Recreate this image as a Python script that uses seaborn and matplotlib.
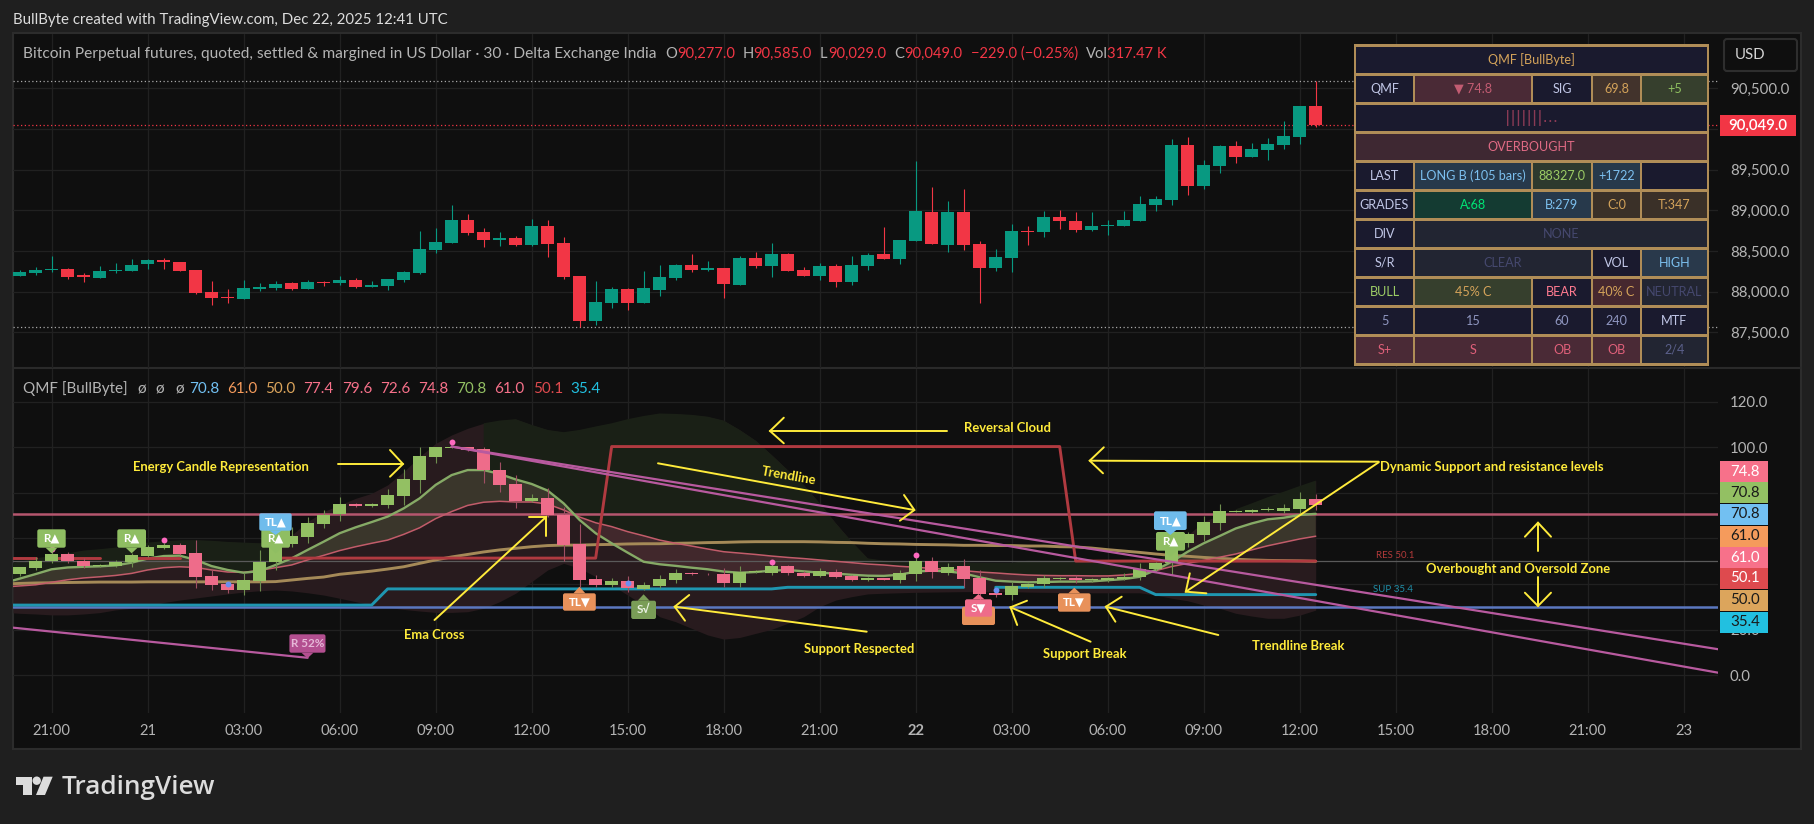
import numpy as np
import pandas as pd
import matplotlib
matplotlib.use("Agg")
import matplotlib.pyplot as plt
from matplotlib.patches import Rectangle, Polygon, FancyBboxPatch, Circle
import seaborn as sns

# --- price candles, 30 minute bars ---
opens = [88193,88230,88271,88279,88205,88168,88254,88254,88340,88390,88365,88267,87996,87935,87910,88033,88045,88107,88033,88119,
         88107,88144,88058,88070,88144,88230,88512,88599,88881,88734,88635,88660,88574,88808,88599,88193,87640,87861,88033,87861,
         88021,88168,88328,88267,88291,88082,88414,88316,88463,88267,88193,88316,88119,88316,88463,88402,88623,88980,88574,88980,
         88586,88291,88414,88746,88734,88918,88869,88758,88812,88808,88869,89066,89127,89803,89299,89545,89791,89656,89742,89803,
         89902,90277]
highs = [88267,88303,88439,88291,88226,88316,88353,88402,88402,88414,88365,88267,88131,88033,88144,88107,88131,88119,88144,88131,
         88193,88168,88131,88156,88254,88746,88783,89066,88955,88783,88734,88685,88894,88881,88672,88193,88131,88058,88045,88254,
         88328,88340,88463,88377,88291,88439,88488,88599,88476,88303,88353,88340,88439,88476,88795,88635,89607,89287,89115,89262,
         88623,88525,88832,88808,88992,89004,88980,88980,88881,88992,89176,89176,89877,89902,89619,89803,89853,89828,89889,90098,
         90283,90585]
lows = [88193,88205,88246,88156,88119,88168,88230,88254,88279,88279,88254,87972,87836,87861,87910,88008,88021,88021,88033,88070,
        88082,88045,88058,88021,88119,88217,88476,88599,88697,88549,88562,88562,88562,88426,88156,87566,87590,87799,87775,87861,
        87947,88144,88242,88254,87922,88082,88291,88181,88254,88193,88144,88058,88082,88267,88402,88340,88623,88586,88488,88512,
        87861,88254,88242,88574,88672,88771,88734,88746,88697,88808,88869,88992,89066,89189,89262,89459,89582,89656,89619,89754,
        89816,90029]
closes = [88242,88267,88279,88181,88181,88254,88267,88328,88390,88365,88254,87984,87922,87926,88045,88058,88094,88033,88119,88107,
          88144,88058,88082,88156,88242,88525,88611,88881,88722,88635,88660,88574,88808,88586,88181,87640,87873,88033,87861,88045,
          88181,88328,88267,88291,88094,88414,88316,88463,88254,88193,88316,88119,88328,88451,88402,88635,88992,88586,88980,88574,
          88291,88426,88746,88738,88918,88869,88758,88808,88820,88881,89078,89139,89803,89299,89557,89791,89656,89754,89816,89914,
          90283,90049]

# --- energy candles in the QMF pane ---
e_open = [44.6,47.2,50.3,53.1,50.3,48.1,47.8,49.5,52.5,56.0,57.0,53.6,43.4,40.0,37.6,41.5,49.8,57.7,60.8,66.5,
          70.6,75.0,74.4,74.8,78.8,85.8,95.9,99.8,100.0,99.1,90.0,83.8,76.4,77.6,70.3,57.6,42.2,39.8,41.2,37.7,
          39.2,41.8,44.9,44.6,44.4,40.5,45.2,44.9,47.8,45.0,43.7,45.5,43.4,41.8,42.7,41.8,44.6,50.0,45.0,47.8,
          42.7,36.1,35.4,38.9,39.9,42.1,42.5,41.7,41.7,42.1,43.3,46.6,49.1,58.2,61.5,67.0,71.8,71.5,72.5,72.2,
          73.1,77.4]
e_high = [47.3,52.0,55.0,54.2,51.3,48.7,50.6,53.5,57.1,58.2,57.9,59.3,46.2,41.1,44.7,54.9,62.3,65.2,69.6,72.5,
          78.1,75.7,75.7,81.6,90.6,100.0,100.0,100.0,100.0,100.0,93.5,87.7,79.5,82.0,74.0,66.4,44.0,42.5,43.5,40.8,
          44.0,46.5,45.2,44.7,46.9,48.0,46.0,50.6,48.4,45.8,46.9,46.5,44.0,43.0,42.8,46.2,52.0,52.0,49.1,50.9,
          46.2,36.7,41.1,40.6,44.1,43.3,44.0,42.5,43.3,44.7,49.4,49.8,62.3,63.0,69.9,75.1,72.5,73.1,73.7,75.1,
          80.4,79.6]
e_low = [43.5,46.2,49.1,49.1,46.9,47.6,47.6,47.6,52.0,55.4,52.6,38.1,37.4,36.2,35.4,37.1,46.2,56.4,57.9,64.5,
         67.8,73.9,73.9,73.2,74.7,79.8,93.0,99.6,98.4,84.5,80.5,73.2,76.1,69.6,50.3,38.9,38.6,38.9,36.7,37.4,
         38.1,40.6,44.1,44.0,38.9,38.9,44.8,44.0,44.0,43.3,43.3,42.5,41.5,41.5,41.7,40.6,41.4,42.8,44.0,38.9,
         33.0,34.5,33.0,38.1,38.9,41.8,40.3,41.1,41.1,41.8,41.8,45.5,44.0,56.4,59.1,63.7,71.5,71.2,72.1,71.0,
         70.6,72.6]
e_close = [47.3,50.3,53.1,50.3,47.9,48.4,49.7,52.6,56.1,57.0,53.3,43.3,39.8,37.6,41.6,49.8,58.0,60.9,66.6,70.3,
           75.0,74.4,75.0,78.9,85.9,96.0,100.0,100.0,98.7,90.0,83.6,76.4,77.6,70.2,57.1,41.8,39.8,41.2,38.3,39.6,
           42.1,44.9,44.4,44.3,40.5,45.2,45.6,47.8,45.0,43.7,45.8,43.3,41.8,42.7,41.8,44.7,50.0,45.5,47.6,42.2,
           35.7,35.4,39.0,40.0,42.7,42.5,41.7,42.1,42.5,43.3,46.8,49.2,59.3,61.8,67.1,71.9,72.1,72.7,73.1,73.4,
           77.2,74.8]

# --- QMF lines, first value sits on the left edge of the pane ---
line_bars = [0.59] + list(range(1, 83))
qmf_fast = [41.6,42.4,44.4,46.5,47.3,47.6,47.8,48.2,49.4,51.2,52.3,52.5,50.6,47.9,46.2,45.0,45.7,48.4,51.3,55.0,58.6,
            62.3,64.9,67.2,69.6,73.2,77.6,83.5,87.8,90.0,90.0,88.3,85.9,83.9,81.0,75.4,68.1,62.3,57.9,53.8,49.8,
            48.7,48.0,47.2,46.5,45.5,45.0,45.3,45.9,46.2,45.6,45.0,44.6,44.1,43.7,43.6,44.1,45.5,45.9,45.6,44.7,
            43.0,41.5,41.1,40.8,40.9,41.1,41.1,41.2,41.7,42.2,43.2,46.2,49.8,54.2,57.9,61.1,64.4,66.6,68.4,69.1,
            70.3,70.8]
qmf_signal = [39.0,39.2,39.7,40.8,41.9,42.7,43.2,43.8,44.7,46.2,47.2,47.6,47.3,46.2,45.3,45.2,46.0,47.2,48.4,50.6,52.6,
              54.7,56.4,57.9,59.3,61.8,64.7,68.7,71.8,74.5,75.9,76.3,76.0,76.0,75.1,72.5,69.4,66.9,65.2,63.0,61.2,
              59.3,57.9,56.7,55.4,54.2,53.6,53.0,52.3,51.7,51.2,50.6,50.0,49.4,48.8,48.4,47.8,47.4,46.9,46.5,45.9,
              45.3,44.9,44.4,44.0,43.8,43.7,43.7,43.6,43.6,44.0,44.7,45.9,47.7,49.1,50.4,51.8,53.2,55.0,56.8,58.3,
              59.8,61.0]
qmf_slow = [40.2,40.3,40.5,40.6,40.7,40.8,40.9,40.9,40.9,41.0,41.0,41.0,41.0,41.0,41.0,41.0,41.0,41.1,41.8,42.5,43.1,
            44.3,45.0,45.7,46.6,47.6,49.1,50.6,51.9,53.0,54.1,55.0,55.7,56.4,56.9,57.1,57.1,57.3,57.4,57.6,57.7,
            57.7,57.9,58.0,58.2,58.3,58.5,58.6,58.6,58.6,58.6,58.5,58.3,58.2,57.9,57.7,57.6,57.4,57.3,57.2,57.0,
            57.0,56.9,56.9,56.7,56.7,56.4,56.3,55.8,55.1,54.5,53.9,53.2,52.6,52.2,51.7,51.3,50.9,50.6,50.4,50.3,
            50.2,50.0]
cloud_top = [49.2,49.8,51.3,52.3,53.5,54.7,55.3,56.0,56.9,58.2,58.8,59.2,59.3,59.0,58.5,58.2,57.9,58.6,61.5,67.4,71.8,
             74.7,77.6,79.8,83.5,89.3,95.9,101.7,105.4,108.3,110.5,111.7,112.3,109.8,107.6,106.6,107.6,109.1,110.5,112.3,113.7,
             114.8,114.6,114.2,113.4,111.7,107.6,102.9,96.6,90.0,83.5,75.4,66.7,58.6,51.3,50.3,49.8,49.7,49.7,49.7,49.4,
             49.3,49.3,49.3,50.3,50.3,50.3,50.3,50.3,50.4,50.4,50.5,50.6,54.2,61.5,67.4,70.3,72.8,75.4,78.1,80.5,
             83.0,85.4]
cloud_bottom = [27.4,27.2,26.9,26.5,26.5,26.9,27.5,28.7,29.4,30.4,31.9,33.0,33.9,34.8,35.7,36.5,37.1,37.4,37.0,36.2,35.2,
                33.8,32.3,30.8,29.8,28.9,28.2,27.6,27.6,27.9,29.4,32.3,36.0,41.1,46.2,49.1,46.9,43.3,39.6,35.2,30.8,
                25.7,23.5,20.6,17.7,15.9,16.6,18.4,20.2,22.8,25.7,30.1,33.0,34.5,35.7,36.0,36.2,36.4,36.5,36.6,36.7,
                36.7,36.7,36.7,36.5,36.4,36.3,36.3,36.2,36.2,36.2,36.2,35.2,33.8,32.7,30.8,29.4,27.2,26.0,25.0,25.0,
                26.4,28.6]

res_bars = [0.59, 2, 3, 4, 5, 6, 8, 9, 10, 11, 17, 37, 38, 66, 67, 82]
res_vals = [51.4, 51.4, 51.4, 51.4, 51.4, 51.4, 51.4, 51.4, 51.4, 51.4, 51.4, 51.4, 100.3, 100.3, 50.1, 50.1]
res_groups = [0, 0, 1, 1, 1, 1, 2, 2, 2, 2, 3, 3, 3, 3, 3, 3]
sup_bars = [0.59, 23, 24, 48, 49, 60, 62, 71, 72, 82]
sup_vals = [30.8, 30.8, 37.9, 37.9, 38.6, 38.6, 38.6, 38.6, 35.4, 35.4]
sup_groups = [0, 0, 0, 0, 0, 0, 1, 1, 1, 1]
trend_bars = [0.6, 19, 28, 107.2, 28, 107.2]
trend_vals = [20.9, 7.7, 100.3, 11.4, 100.3, 1.1]
trend_groups = [0, 0, 1, 1, 2, 2]
pink_bars = [3, 10, 28, 48, 57]
pink_vals = [55.3, 59.3, 102.3, 49.8, 52.8]
blue_bars = [14, 39, 62]
blue_vals = [40.2, 40.5, 37.5]

overbought = 70.8
oversold = 30
midline = 50

price_ticks = [87500, 88000, 88500, 89000, 89500, 90000, 90500]
price_labels = ['87,500.0', '88,000.0', '88,500.0', '89,000.0', '89,500.0', '', '90,500.0']
qmf_ticks = [0, 20, 40, 60, 80, 100, 120]
qmf_labels = ['0.0', '20.0', '', '', '', '100.0', '120.0']
time_bars = list(range(3, 106, 6))
time_labels = ['21:00', '21', '03:00', '06:00', '09:00', '12:00', '15:00', '18:00', '21:00',
               '22', '03:00', '06:00', '09:00', '12:00', '15:00', '18:00', '21:00', '23']

legend_names = ['70.8', '61.0', '50.0', '77.4', '79.6', '72.6', '74.8', '70.8', '61.0', '50.1', '35.4']
axis_tags = ['74.8', '70.8', '70.8', '61.0', '61.0', '50.1', '50.0', '35.4']

# table cells: row, first col, last col, text, background, text colour
NAVY, SLATE = '#1a1a2e', '#222532'
table_cells = [
    (0, 0, 4, 'QMF [BullByte]', NAVY, '#d4a35a'),
    (1, 0, 0, 'QMF', NAVY, '#c0c6e6'), (1, 1, 1, '▼ 74.8', '#4a2a36', '#c25c72'), (1, 2, 2, 'SIG', NAVY, '#c0c6e6'),
    (1, 3, 3, '69.8', '#42332c', '#d4a35a'), (1, 4, 4, '+5', '#363f2d', '#8fc060'),
    (2, 0, 4, '|||||||...', NAVY, '#8a3a55'),
    (3, 0, 4, 'OVERBOUGHT', '#3e2832', '#e06a84'),
    (4, 0, 0, 'LAST', NAVY, '#c0c6e6'), (4, 1, 1, 'LONG B (105 bars)', '#27394b', '#7cc0ef'),
    (4, 2, 2, '88327.0', '#2d3a2e', '#9ccc65'), (4, 3, 3, '+1722', '#27394b', '#7cc0ef'), (4, 4, 4, '', NAVY, NAVY),
    (5, 0, 0, 'GRADES', NAVY, '#c0c6e6'), (5, 1, 1, 'A:68', '#143b32', '#00e676'), (5, 2, 2, 'B:279', '#27394b', '#7cc0ef'),
    (5, 3, 3, 'C:0', '#3a3028', '#d4a35a'), (5, 4, 4, 'T:347', '#3a3028', '#d4a35a'),
    (6, 0, 0, 'DIV', NAVY, '#c0c6e6'), (6, 1, 4, 'NONE', SLATE, '#45486e'),
    (7, 0, 0, 'S/R', NAVY, '#c0c6e6'), (7, 1, 2, 'CLEAR', SLATE, '#45486e'), (7, 3, 3, 'VOL', NAVY, '#c0c6e6'),
    (7, 4, 4, 'HIGH', '#29394b', '#7cc0ef'),
    (8, 0, 0, 'BULL', NAVY, '#9ccc65'), (8, 1, 1, '45% C', '#363f2d', '#d4a35a'), (8, 2, 2, 'BEAR', NAVY, '#ff7a90'),
    (8, 3, 3, '40% C', '#46282f', '#d4a35a'), (8, 4, 4, 'NEUTRAL', SLATE, '#45486e'),
    (9, 0, 0, '5', NAVY, '#8f96c0'), (9, 1, 1, '15', NAVY, '#8f96c0'), (9, 2, 2, '60', NAVY, '#8f96c0'),
    (9, 3, 3, '240', NAVY, '#8f96c0'), (9, 4, 4, 'MTF', NAVY, '#c0c6e6'),
    (10, 0, 0, 'S+', '#4a2a36', '#e0607a'), (10, 1, 1, 'S', '#4a2a36', '#e0607a'), (10, 2, 2, 'OB', '#4a2a36', '#e0607a'),
    (10, 3, 3, 'OB', '#4a2a36', '#e0607a'), (10, 4, 4, '2/4', SLATE, '#5a5f8a'),
]

W, H = 1814, 824
PAGE, PANE, GRID = '#1f1f1f', '#0f0f0f', '#212121'
UP, DOWN = '#089981', '#f23645'
E_UP, E_DOWN = '#93c063', '#ee6c8a'
YELLOW = '#ffeb3b'
GREY = '#b4b4b4'

sns.set_theme(style="dark", rc={'axes.facecolor': PANE, 'figure.facecolor': PAGE, 'axes.grid': False})
plt.rcParams['font.family'] = ['Lato', 'DejaVu Sans']

fig = plt.figure(figsize=(W / 100, H / 100), dpi=100)


def pane(left, top, right, bottom):
    return fig.add_axes([left / W, 1 - bottom / H, (right - left) / W, (bottom - top) / H])


back = pane(0, 0, W, H)
back.set_xlim(0, W)
back.set_ylim(H, 0)
back.axis('off')
back.add_patch(Rectangle((13, 33), 1788, 716, fc=PANE, ec='#2c2c2c', lw=1.5))
back.plot([13, 1801], [368, 368], color='#2a2a2a', lw=1.5)

ax_price = pane(13, 34, 1718, 368)
ax_qmf = pane(13, 369, 1718, 713)
bar_x = np.arange(1, 83)


def draw_candles(ax, o, h, l, c, up, down, wick_up, wick_down):
    o, h, l, c = map(np.asarray, (o, h, l, c))
    rising = c >= o
    ax.vlines(bar_x[rising], l[rising], h[rising], color=wick_up, lw=0.8, zorder=5)
    ax.vlines(bar_x[~rising], l[~rising], h[~rising], color=wick_down, lw=0.8, zorder=5)
    body_low = np.minimum(o, c)
    body_h = np.abs(c - o)
    ax.bar(bar_x, body_h, bottom=body_low, width=0.8, color=np.where(rising, up, down), linewidth=0, zorder=6)


for ax in (ax_price, ax_qmf):
    ax.set_facecolor('none')
    ax.set_xlim(0.5875, 107.14)
    ax.set_xticks(time_bars)
    ax.yaxis.tick_right()
    ax.grid(True, color=GRID, lw=0.9)
    ax.set_axisbelow(True)
    ax.tick_params(length=0)
    ax.set_xlabel('')
    ax.set_ylabel('')
sns.despine(ax=ax_price, left=True, right=True, top=True, bottom=True)
sns.despine(ax=ax_qmf, left=True, right=True, top=True, bottom=True)

# price pane
draw_candles(ax_price, opens, highs, lows, closes, UP, DOWN, UP, DOWN)
dots = (0, (1, 2))
ax_price.axhline(max(highs), color='#a8a8a8', lw=0.9, ls=dots, zorder=2)
ax_price.axhline(min(lows), color='#a8a8a8', lw=0.9, ls=dots, zorder=2)
ax_price.axhline(closes[-1], color=DOWN, lw=0.9, ls=dots, zorder=2)
ax_price.set_ylim(87061, 91168)
ax_price.set_yticks(price_ticks)
ax_price.set_yticklabels(price_labels, color=GREY, fontsize=10.8)
ax_price.tick_params(axis='y', pad=8.6)
ax_price.set_xticklabels([])

# QMF pane
lines = pd.DataFrame({'bar': line_bars, 'fast': qmf_fast, 'signal': qmf_signal, 'slow': qmf_slow,
                      'top': cloud_top, 'bottom': cloud_bottom})
xs = lines['bar'].to_numpy()
ax_qmf.set_ylim(-16.5, 134.3)
ax_qmf.set_yticks(qmf_ticks)
ax_qmf.set_yticklabels(qmf_labels, color=GREY, fontsize=10.8)
ax_qmf.tick_params(axis='y', pad=8.6)
ax_qmf.set_xticklabels(time_labels, color=GREY, fontsize=10.6)
for lab, txt in zip(ax_qmf.get_xticklabels(), time_labels):
    if txt == '22':
        lab.set_fontweight('bold')
ax_qmf.tick_params(axis='x', pad=8)

floor = np.maximum(lines['fast'], lines['signal']).to_numpy()
floor[xs >= 75] = np.maximum(floor[xs >= 75], overbought)
green_zone = (xs <= 17) | (xs >= 30)
ax_qmf.fill_between(xs, lines['bottom'], lines['top'], color='#281b1e', lw=0, zorder=1)
ax_qmf.fill_between(xs, floor, lines['top'], where=green_zone & (lines['top'] > floor),
                    color='#1a2016', lw=0, zorder=1.1)
ax_qmf.fill_between(xs, lines['fast'], lines['signal'], where=lines['fast'] >= lines['signal'], interpolate=True,
                    color='#8fb56a', alpha=0.18, lw=0, zorder=1.2)
ax_qmf.fill_between(xs, lines['fast'], lines['signal'], where=lines['fast'] < lines['signal'], interpolate=True,
                    color='#c8707a', alpha=0.16, lw=0, zorder=1.2)

ax_qmf.axhline(overbought, color='#b5566e', lw=1.8, zorder=2)
ax_qmf.axhline(oversold, color='#5b78c0', lw=1.8, zorder=2)
ax_qmf.axhline(midline, color='#5a5a5a', lw=0.9, zorder=2)

sns.lineplot(data=lines, x='bar', y='slow', color='#a58a58', lw=2.1, estimator=None, ax=ax_qmf, zorder=3)
sns.lineplot(data=lines, x='bar', y='signal', color='#c25c6a', lw=1.1, estimator=None, ax=ax_qmf, zorder=3)
sns.lineplot(data=lines, x='bar', y='fast', color='#86aa66', lw=1.7, estimator=None, ax=ax_qmf, zorder=3)


def group_lines(xv, yv, groups, color, lw, zorder):
    d = pd.DataFrame({'x': xv, 'y': yv, 'g': groups})
    for _, seg in d.groupby('g'):
        sns.lineplot(data=seg, x='x', y='y', color=color, lw=lw, estimator=None, sort=False, ax=ax_qmf, zorder=zorder)


group_lines(res_bars, res_vals, res_groups, '#b03a40', 2.1, 3.5)
group_lines(sup_bars, sup_vals, sup_groups, '#1f96b0', 2.1, 3.5)
draw_candles(ax_qmf, e_open, e_high, e_low, e_close, E_UP, E_DOWN, '#6f8f4f', '#a04f63')
group_lines(trend_bars, trend_vals, trend_groups, '#b85a9f', 1.6, 7)
sns.scatterplot(x=pink_bars, y=pink_vals, color='#ff69c0', s=18, linewidth=0, ax=ax_qmf, zorder=8)
sns.scatterplot(x=blue_bars, y=blue_vals, color='#6c8ff0', s=18, linewidth=0, ax=ax_qmf, zorder=8)
ax_qmf.set_xlabel('')
ax_qmf.set_ylabel('')
ax_qmf.set_xlim(0.5875, 107.14)
ax_qmf.set_ylim(-16.5, 134.3)

# overlay in pixel space for headers, table, tags, badges and hand drawn notes
over = pane(0, 0, W, H)
over.set_xlim(0, W)
over.set_ylim(H, 0)
over.axis('off')
over.patch.set_alpha(0)


def label(x, y, s, color=GREY, size=10, ha='left', **kw):
    over.text(x, y, s, color=color, fontsize=size, ha=ha, va='center', **kw)


label(13, 20, 'BullByte created with TradingView.com, Dec 22, 2025 12:41 UTC', '#dcdcdc', 10.8)
label(23, 54, 'Bitcoin Perpetual futures, quoted, settled & margined in US Dollar · 30 · Delta Exchange India', GREY, 11.15)
for x, s, c in [(665, 'O', GREY), (677, '90,277.0', DOWN), (743, 'H', GREY), (753, '90,585.0', DOWN),
                (820, 'L', GREY), (828, '90,029.0', DOWN), (894, 'C', GREY), (904, '90,049.0', DOWN),
                (971, '−229.0 (−0.25%)', DOWN), (1086, 'Vol', GREY), (1107, '317.47 K', DOWN)]:
    label(x, 54, s, c, 10.6)

label(23, 389, 'QMF [BullByte]', GREY, 11)
for x in (137, 155, 175):
    label(x, 389, 'ø', GREY, 11)
legend_x = [189, 227, 265, 303, 342, 380, 418, 456, 494, 533, 570]
legend_c = ['#72c0f2', '#f59b5c', '#dca55c', '#f7718a', '#f7718a', '#f7718a', '#f7718a', '#93c063', '#f7718a', '#de4a4e', '#22c0e0']
for x, s, c in zip(legend_x, legend_names, legend_c):
    label(x, 389, s, c, 11)

# USD button and last price tag
over.add_patch(FancyBboxPatch((1727, 42), 67, 26, boxstyle='round,pad=3', fc=PANE, ec='#2e2e2e', lw=1.5))
label(1735, 55, 'USD', '#d4d4d4', 10.8)
over.add_patch(Rectangle((1720, 115), 75.7, 21, fc=DOWN, lw=0))
label(1758, 125.5, f'{closes[-1]:,.1f}', 'white', 10.8, ha='center', fontweight='semibold')

# indicator axis tags
tag_tops = [461.3, 482, 504, 526, 547, 568, 590, 612]
tag_colors = ['#f7718a', '#93c063', '#72c0f2', '#f59b5c', '#f7718a', '#de4a4e', '#dca55c', '#22c0e0']
tag_text = ['white', '#1a1a1a', '#1a1a1a', '#1a1a1a', 'white', 'white', '#1a1a1a', '#1a1a1a']
for top, s, c, t in zip(tag_tops, axis_tags, tag_colors, tag_text):
    over.add_patch(Rectangle((1720, top), 47.5, 20.5, fc=c, lw=0, zorder=3))
    label(1730, top + 10.5, s, t, 10.8, zorder=4)

# status table
col_edges = [1356, 1415, 1533, 1593, 1642, 1709]
row_tops = [46.7 + 29 * i for i in range(11)]
over.add_patch(Rectangle((1354, 44), 355, 322, fc='#b08d57', lw=0, zorder=3))
for row, c0, c1, s, bg, fg in table_cells:
    x0 = col_edges[c0]
    x1 = col_edges[c1 + 1] - 2
    over.add_patch(Rectangle((x0, row_tops[row]), x1 - x0, 26.5, fc=bg, lw=0, zorder=4))
    if s.startswith('|'):
        label((x0 + x1) / 2, row_tops[row] + 13.2, s, fg, 11.5, ha='center', zorder=5, family='DejaVu Sans')
    else:
        label((x0 + x1) / 2, row_tops[row] + 13.2, s, fg, 9.1, ha='center', zorder=5)


def badge(x0, y0, x1, y1, tip, s, color, txt='white'):
    mid = (x0 + x1) / 2
    base = y1 if tip > y1 else y0
    over.add_patch(Polygon([(mid - 6, base), (mid + 6, base), (mid, tip)], fc=color, lw=0))
    over.add_patch(FancyBboxPatch((x0 + 2, y0 + 2), x1 - x0 - 4, y1 - y0 - 4, boxstyle='round,pad=2', fc=color, lw=0))
    label(mid, (y0 + y1) / 2, s, txt, 8.4, ha='center', fontweight='bold')


GREEN_B, BLUE_B, ORANGE_B, PINK_B = '#8fbe62', '#6fbcec', '#e8915a', '#ee6c8a'
badge(37.3, 529.3, 65.7, 547.7, 553.3, 'R▲', GREEN_B)
badge(117.3, 529.3, 146, 547.7, 553.3, 'R▲', GREEN_B)
badge(261.3, 529.3, 290, 547.7, 553.3, 'R▲', GREEN_B)
badge(259.3, 513.3, 291.7, 530.7, 535, 'TL▲', BLUE_B)
badge(563, 593.3, 595.8, 610.7, 586.7, 'TL▼', ORANGE_B)
badge(631.2, 600.7, 656, 619, 594.3, 'S√', '#7a9d57', '#e8f0e0')
badge(289.4, 634.3, 325.5, 652.7, 658.3, 'R 52%', '#b34f90', '#e6b8d8')
badge(962, 606.7, 995, 625, 600, '', ORANGE_B)
badge(965, 599.3, 992, 616.7, 594, 'S▼', PINK_B)
badge(1058, 593.3, 1090.6, 611.7, 587.7, 'TL▼', ORANGE_B)
badge(1156, 532, 1185, 550.7, 556.7, 'R▲', GREEN_B)
badge(1154, 511.3, 1186.7, 530, 535, 'TL▲', BLUE_B)

label(1395, 555, 'RES 50.1', '#b33a3a', 7, ha='center')
label(1393, 589, 'SUP 35.4', '#1f8ea8', 7, ha='center')


def note_arrow(pts, head):
    xv, yv = zip(*pts)
    over.plot(xv, yv, color=YELLOW, lw=1.4, solid_capstyle='round', zorder=6)
    xv, yv = zip(*head)
    over.plot(xv, yv, color=YELLOW, lw=1.4, solid_capstyle='round', solid_joinstyle='miter', zorder=6)


note_arrow([(338, 464), (403, 464)], [(390, 450), (403, 464), (390, 476.7)])
note_arrow([(434.5, 620), (546.4, 516.7)], [(528.6, 516.7), (546.4, 516.7), (546.4, 535.7)])
note_arrow([(946.7, 431), (770, 431)], [(783.8, 417.7), (770, 431), (783.8, 443.3)])
note_arrow([(658, 463.3), (914, 510)], [(904, 495), (914.4, 510), (899.9, 520.7)])
note_arrow([(866.7, 631.7), (674.7, 606.7)], [(689.2, 595), (674.7, 606.7), (685, 620.7)])
note_arrow([(1090.6, 641.7), (1010.5, 607.3)], [(1027, 600.7), (1010.5, 607.3), (1017.2, 625)])
note_arrow([(1218.3, 635), (1105.9, 606.7)], [(1121.7, 596.7), (1105.9, 606.7), (1115.4, 621.7)])
note_arrow([(1378.7, 461.7), (1089.7, 460.7)], [(1103.8, 447.3), (1089.7, 460.7), (1103, 473.3)])
note_arrow([(1378.7, 462.3), (1185.8, 591.7)], [(1189.8, 573.3), (1185.8, 591.7), (1206.4, 593.3)])
note_arrow([(1538, 551), (1538, 522.7)], [(1524.9, 536.7), (1538, 522.7), (1551, 536.7)])
note_arrow([(1538, 576.7), (1538, 606)], [(1524.9, 592.7), (1538, 606), (1551, 592.7)])

for x, y, s, rot in [(221, 467.3, 'Energy Candle Representation', 0), (434.5, 635.3, 'Ema Cross', 0),
                     (1007.6, 428.3, 'Reversal Cloud', 0), (789, 476, 'Trendline', -10),
                     (859.6, 649.3, 'Support Respected', 0), (1085.2, 654.3, 'Support Break', 0),
                     (1298.4, 646, 'Trendline Break', 0), (1492, 466.7, 'Dynamic Support and resistance levels', 0),
                     (1518.3, 569.3, 'Overbought and Oversold Zone', 0)]:
    label(x, y, s, YELLOW, 9.35, ha='center', rotation=rot, fontweight='bold', zorder=7)

# TradingView logo
logo = '#dcdcdc'
over.add_patch(Polygon([(15.7, 776.7), (31.7, 776.7), (31.7, 795), (23.3, 795), (23.3, 785), (15.7, 785)], fc=logo, lw=0))
over.add_patch(Circle((36.7, 780.7), 4.2, fc=logo, lw=0))
over.add_patch(Polygon([(43.5, 776.7), (52.7, 776.7), (45, 795), (36, 795)], fc=logo, lw=0))
label(62, 787, 'TradingView', logo, 18.8, family=['Open Sans', 'DejaVu Sans'], fontweight='semibold')

fig.savefig('out.png', dpi=100, facecolor=PAGE)
plt.close(fig)
